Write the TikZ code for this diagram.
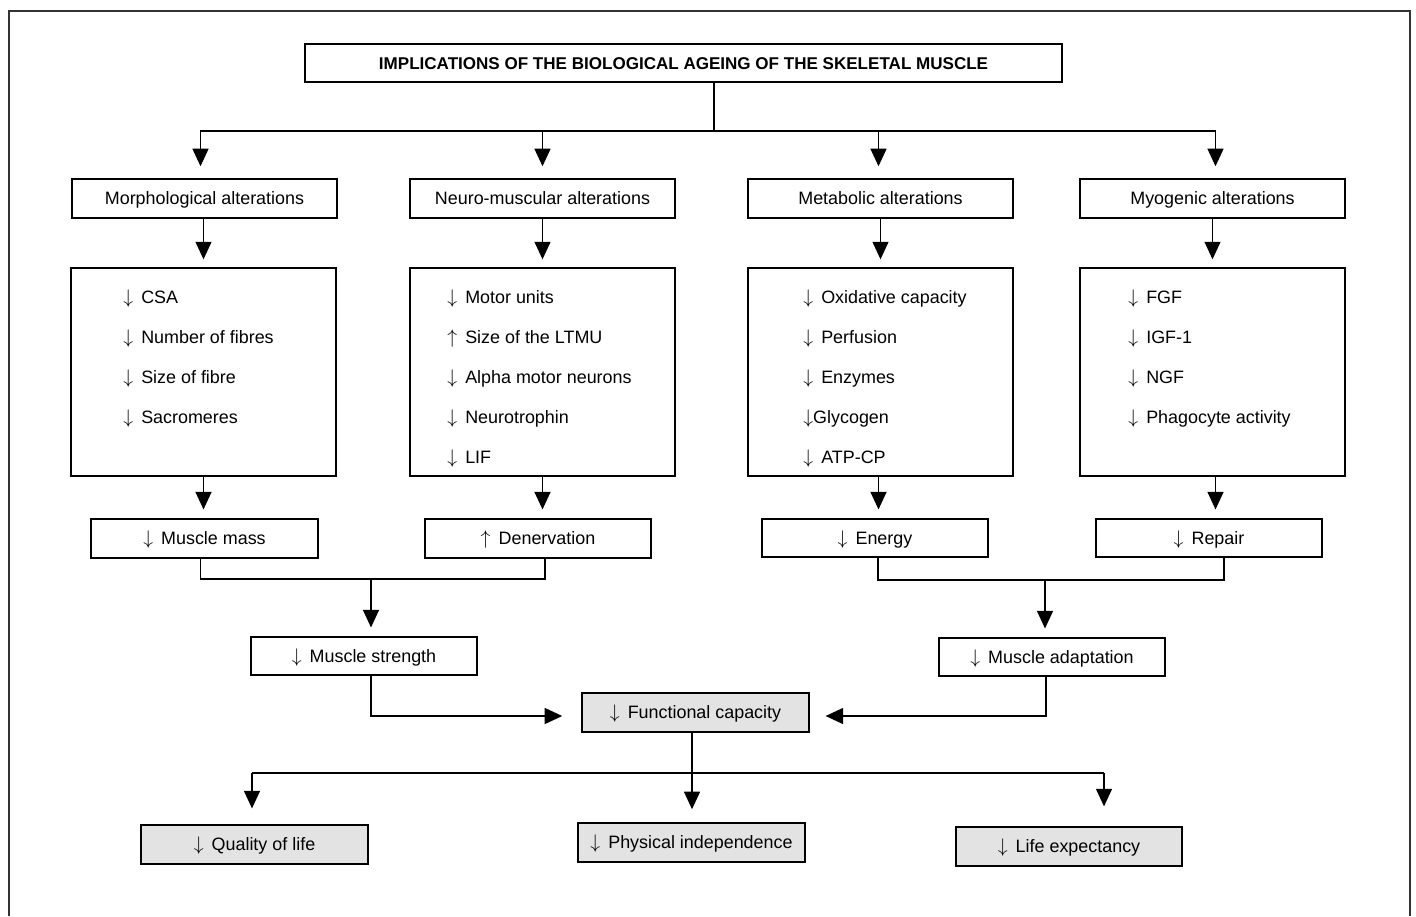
\documentclass[tikz,border=0pt]{standalone}
\usepackage{fontspec}
\usepackage{graphicx}
\setmainfont{Liberation Sans}
\usetikzlibrary{arrows.meta,calc}
\definecolor{boxgray}{RGB}{227,227,227}
\newcommand\bodyf{\fontsize{10.2}{12}\selectfont}
\newcommand\titlef{\fontsize{9.7}{11.5}\selectfont\bfseries}
\newcommand\dnar{\scalebox{1.12}{$\downarrow$}}
\newcommand\upar{\scalebox{1.12}{$\uparrow$}}
\newcommand\dn{\dnar\hspace{0.45em}}
\newcommand\up{\upar\hspace{0.45em}}
\begin{document}
\begin{tikzpicture}[x=0.02cm,y=-0.02cm,
  sz/.style 2 args={minimum width=#1*0.02cm,minimum height=#2*0.02cm},
  box/.style={draw=black, line width=0.85pt, inner sep=0pt, text height=7.3pt, text depth=0pt, font=\bodyf},
  gbox/.style={box, fill=boxgray},
  ln/.style={line width=1.1pt},
  arr/.style={ln, -{Triangle[width=9pt,length=10pt]}},
  item/.style={anchor=base west, inner sep=0pt, font=\bodyf}]
\useasboundingbox (0,0) rectangle (1416,916);
\draw[line width=1.4pt, draw=black!80] (9,916) -- (9,11) -- (1410,11) -- (1410,916);

% title
\node[box, sz={757}{38}, font=\titlef, text height=6.9pt] (title) at (683.5,63) {IMPLICATIONS OF THE BIOLOGICAL AGEING OF THE SKELETAL MUSCLE};

% categories
\node[box, sz={265}{39}] (morph) at (204.5,198.5) {Morphological alterations};
\node[box, sz={265}{39}] (neuro) at (542.5,198.5) {Neuro-muscular alterations};
\node[box, sz={265}{39}] (metab) at (880.5,198.5) {Metabolic alterations};
\node[box, sz={265}{39}] (myog) at (1212.5,198.5) {Myogenic alterations};

% detail boxes
\node[box, sz={265}{208}] (mdet) at (203.5,372) {};
\node[box, sz={265}{208}] (ndet) at (542.5,372) {};
\node[box, sz={265}{208}] (edet) at (880.5,372) {};
\node[box, sz={265}{208}] (ydet) at (1212.5,372) {};

\node[item] (m1) at (123,303.5) {\dn CSA};
\node[item] (m2) at (123,343.5) {\dn Number of fibres};
\node[item] (m3) at (123,383.5) {\dn Size of fibre};
\node[item] (m4) at (123,423.5) {\dn Sacromeres};

\node[item] (n1) at (447,303.5) {\dn Motor units};
\node[item] (n2) at (447,343.5) {\up Size of the LTMU};
\node[item] (n3) at (447,383.5) {\dn Alpha motor neurons};
\node[item] (n4) at (447,423.5) {\dn Neurotrophin};
\node[item] (n5) at (447,463.5) {\dn LIF};

\node[item] (e1) at (803,303.5) {\dn Oxidative capacity};
\node[item] (e2) at (803,343.5) {\dn Perfusion};
\node[item] (e3) at (803,383.5) {\dn Enzymes};
\node[item] (e4) at (803,423.5) {\dnar Glycogen};
\node[item] (e5) at (803,463.5) {\dn ATP-CP};

\node[item] (y1) at (1128,303.5) {\dn FGF};
\node[item] (y2) at (1128,343.5) {\dn IGF-1};
\node[item] (y3) at (1128,383.5) {\dn NGF};
\node[item] (y4) at (1128,423.5) {\dn Phagocyte activity};

% results
\node[box, sz={227}{39}] (mass) at (204.5,538.5) {\dn Muscle mass};
\node[box, sz={226}{39}] (den) at (538,538.5) {\up Denervation};
\node[box, sz={226}{38}] (energy) at (875,538) {\dn Energy};
\node[box, sz={226}{38}] (repair) at (1209,538) {\dn Repair};

\node[box, sz={226}{38}] (strength) at (364,656) {\dn Muscle strength};
\node[box, sz={226}{38}] (adapt) at (1052,657) {\dn Muscle adaptation};

\node[gbox, sz={227}{39}] (func) at (695.5,712.5) {\dn Functional capacity};

\node[gbox, sz={227}{39}] (qol) at (254.5,844.5) {\dn Quality of life};
\node[gbox, sz={227}{39}] (phys) at (691.5,842.5) {\dn Physical independence};
\node[gbox, sz={226}{39}] (life) at (1069,846.5) {\dn Life expectancy};

% connectors from title
\coordinate (tj) at (714,131);
\draw[ln] (title.south -| tj) -- (tj);
\draw[arr, shorten >=6.8pt] (tj) -| ($(morph.north)+(-4,0)$);
\draw[arr, shorten >=6.8pt] (tj) -| (neuro.north);
\draw[arr, shorten >=6.8pt] (tj) -| ($(metab.north)+(-2,0)$);
\draw[arr, shorten >=6.8pt] (tj) -| ($(myog.north)+(3,0)$);

% category -> detail
\draw[arr, shorten >=4.5pt] (mdet.north |- morph.south) -- (mdet.north);
\draw[arr, shorten >=4.5pt] (neuro.south) -- (ndet.north);
\draw[arr, shorten >=4.5pt] (metab.south) -- (edet.north);
\draw[arr, shorten >=4.5pt] (myog.south) -- (ydet.north);

% detail -> result
\draw[arr, shorten >=5pt] (mdet.south) -- (mdet.south |- mass.north);
\draw[arr, shorten >=5pt] (ndet.south) -- (ndet.south |- den.north);
\draw[arr, shorten >=5pt] ($(edet.south)+(-2,0)$) -- ($(edet.south |- energy.north)+(-2,0)$);
\draw[arr, shorten >=5pt] ($(ydet.south)+(3,0)$) -- ($(ydet.south |- repair.north)+(3,0)$);

% merges
\coordinate (lj) at (371,579);
\draw[ln] ($(mass.south)+(-4,0)$) |- (lj) -| ($(den.south)+(7,0)$);
\draw[arr, shorten >=5pt] (lj) -- (lj |- strength.north);

\coordinate (rj) at (1045,580);
\draw[ln] ($(energy.south)+(3,0)$) |- (rj) -| ($(repair.south)+(15,0)$);
\draw[arr, shorten >=5pt] (rj) -- (rj |- adapt.north);

% to functional capacity
\coordinate (sj) at (371,716);
\draw[arr, shorten >=10.8pt] (strength.south -| sj) -- (sj) -- (sj -| func.west);
\coordinate (aj) at (1046,716);
\draw[arr, shorten >=9pt] (adapt.south -| aj) -- (aj) -- (aj -| func.east);

% bottom
\coordinate (bj) at (692,773);
\coordinate (bl) at (252,773);
\coordinate (br) at (1104,773);
\draw[ln] (func.south -| bj) -- (bj);
\draw[ln] (bl) -- (br);
\draw[arr, shorten >=9pt] (bl) -- (bl |- qol.north);
\draw[arr, shorten >=7.4pt] (bj) -- (bj |- phys.north);
\draw[arr, shorten >=11.3pt] (br) -- (br |- life.north);
\end{tikzpicture}
\end{document}
